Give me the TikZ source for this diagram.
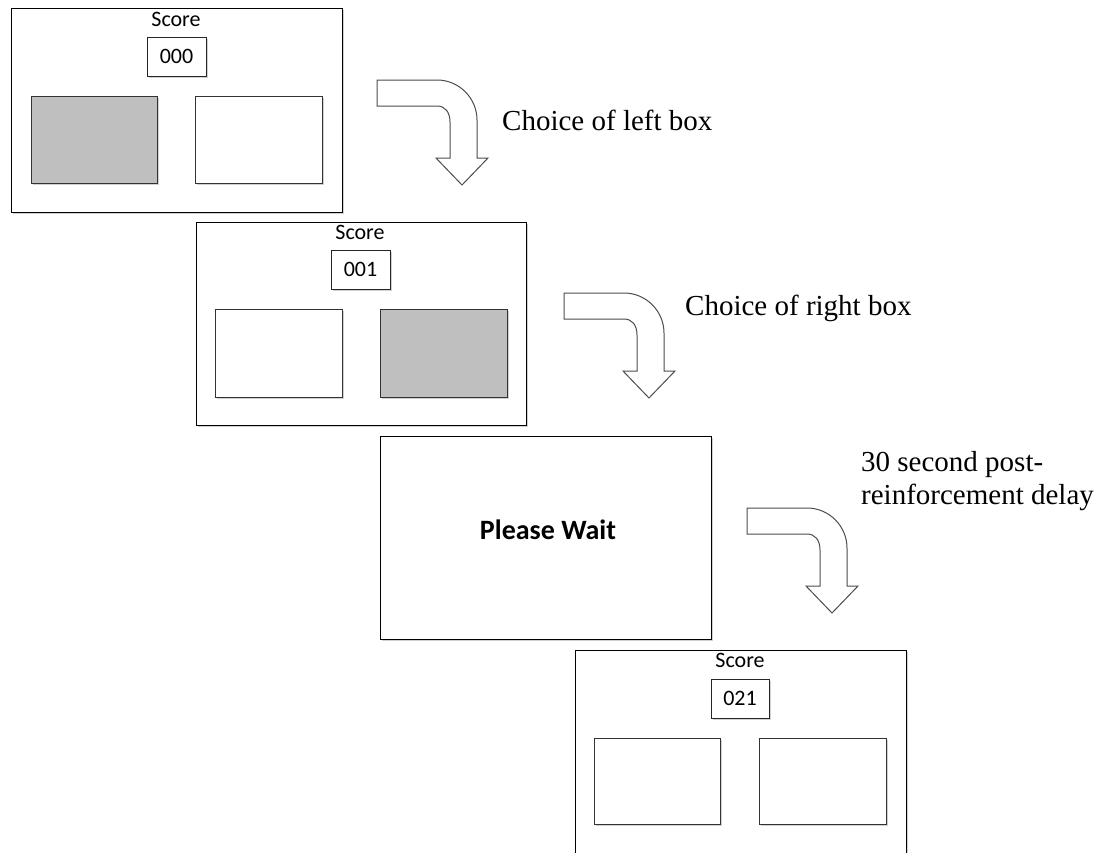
\documentclass[tikz,border=0pt]{standalone}
\usepackage{fontspec}
\setmainfont{Liberation Serif}
\newfontfamily\calib{Carlito}
\usetikzlibrary{fit,shadows}
\begin{document}
\begin{tikzpicture}[x=1pt,y=-1pt,
  shd/.style={drop shadow={shadow xshift=1.5pt,shadow yshift=-2pt,fill=black,opacity=0.18}},
  panel/.style={draw=black,line width=1pt,fill=white,inner sep=0pt,outer sep=0pt,shd},
  choice/.style={draw=black!80,line width=1pt,fill=white,inner sep=0pt,outer sep=0pt,shd},
  chosen/.style={choice,fill=black!25},
  scorebox/.style={draw=black!85,line width=1pt,fill=white,inner sep=0pt,outer sep=0pt,shd},
  lbl/.style={font=\calib\fontsize{22}{26}\selectfont,inner sep=0pt},
  captext/.style={font=\fontsize{29}{33}\selectfont,inner sep=0pt,align=left},
  arrowline/.style={draw=black!70,line width=1pt,fill=white,line join=miter},
  bentarrow/.pic={
    \draw[arrowline] (0,0) -- (60,0) .. controls (82,0) and (100,18) .. (100,40)
      -- (100,78) -- (111,78) -- (85,105) -- (59,78) -- (73,78) -- (73,42)
      .. controls (73,32) and (68,26) .. (60,26) -- (0,26) -- cycle;
  }]
\useasboundingbox (0,0) rectangle (1101,852);
\clip (0,0) rectangle (1101,852);

% Panel 1
\node[panel,fit={(11,8) (342,212)}] (p1) {};
\node[lbl,anchor=base] (s1) at (176,26) {Score};
\node[scorebox,fit={(147,37) (206,76)}] (b1) {};
\node[lbl] (n1) at (176.5,56.5) {000};
\node[chosen,fit={(31,96) (157,183)}] (l1) {};
\node[choice,fit={(195,96) (322,183)}] (r1) {};

% Panel 2
\node[panel,fit={(196,222) (526,425)}] (p2) {};
\node[lbl,anchor=base] (s2) at (360,239) {Score};
\node[scorebox,fit={(331,250) (390,289)}] (b2) {};
\node[lbl] (n2) at (360.5,269.5) {001};
\node[choice,fit={(215,309) (342,397)}] (l2) {};
\node[chosen,fit={(380,309) (507,397)}] (r2) {};

% Panel 3
\node[panel,fit={(380,436) (711,639)}] (p3) {};
\node[font=\calib\bfseries\fontsize{28}{32}\selectfont,inner sep=0pt] (pw) at (548,530) {Please Wait};

% Panel 4
\node[panel,fit={(575,650) (906,880)}] (p4) {};
\node[lbl,anchor=base] (s4) at (740,667) {Score};
\node[scorebox,fit={(711,679) (769,718)}] (b4) {};
\node[lbl] (n4) at (740,698.5) {021};
\node[choice,fit={(594,738) (720,824)}] (l4) {};
\node[choice,fit={(759,738) (886,824)}] (r4) {};

% Bent arrows
\pic (a1) at (377,80) {bentarrow};
\pic (a2) at (564,293) {bentarrow};
\pic (a3) at (747,508) {bentarrow};

% Captions
\node[captext,anchor=base west] (c1) at (502,130) {Choice of left box};
\node[captext,anchor=base west] (c2) at (685,315) {Choice of right box};
\node[captext,anchor=base west] (c3) at (861,504) {30 second post-\\reinforcement delay};
\end{tikzpicture}
\end{document}
